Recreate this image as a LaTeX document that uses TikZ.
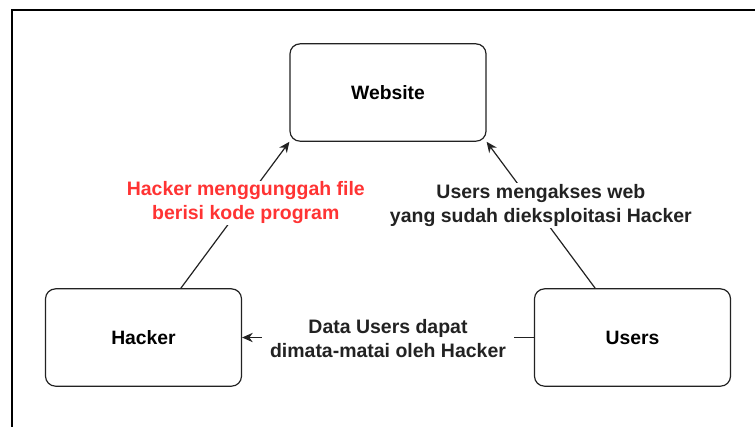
\documentclass[tikz,border=0pt]{standalone}
\usepackage{fontspec}
\setmainfont{Liberation Sans}
\usepackage{tikz}
\usetikzlibrary{calc}
\usetikzlibrary{arrows.meta}
\definecolor{merah}{HTML}{ff3333}
\definecolor{garis}{HTML}{222222}
\tikzset{
  kotak/.style={draw=garis,line width=0.9pt,rounded corners=7.5pt,
    minimum width=147pt,minimum height=73pt,font=\bfseries\fontsize{14.5}{18}\selectfont},
  ket/.style={fill=white,align=center,inner sep=1pt,font=\bfseries\fontsize{14.6}{18}\selectfont,text=garis},
  panah/.style={line width=0.9pt,draw=garis,-{Stealth[length=8pt,width=7pt]}}
}

\begin{document}
\begin{tikzpicture}[x=0.75pt,y=-0.75pt]
\useasboundingbox (0,0) rectangle (755,426);
\draw[line width=1pt] (12,430) -- (12,10) -- (760,10);

\node[kotak] (website) at (388,92.5) {Website};
\node[kotak] (hacker) at (143.5,337.5) {Hacker};
\node[kotak] (users) at (632.5,337.5) {Users};

\draw[panah] ([xshift=28pt]hacker.north) -- (website.south west)
  node[ket,midway,text=merah,xshift=8pt,yshift=9pt] (ketunggah) {Hacker menggunggah file\\berisi kode program};
\draw[panah] ([xshift=-28pt]users.north) -- (website.south east)
  node[ket,midway,yshift=7pt] (ketakses) {Users mengakses web\\yang sudah dieksploitasi Hacker};
\draw[panah] (users.west) -- (hacker.east)
  node[ket,midway,yshift=-1pt,inner xsep=6pt] (ketdata) {Data Users dapat\\dimata-matai oleh Hacker};

\end{tikzpicture}
\end{document}
